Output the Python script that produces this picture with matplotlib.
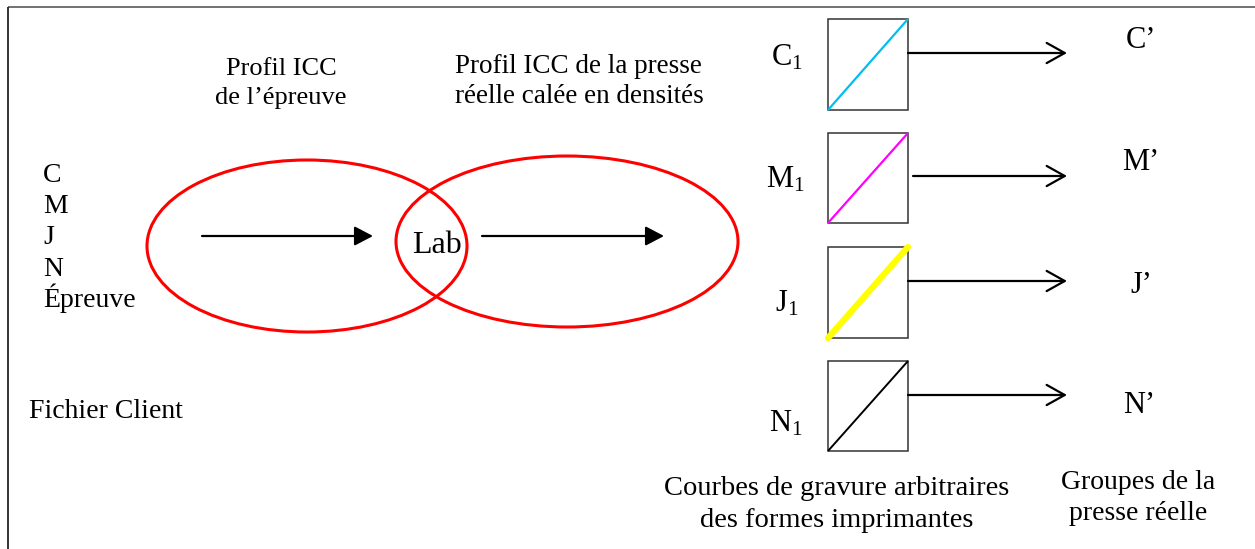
import matplotlib
matplotlib.use("Agg")
import matplotlib.pyplot as plt
from matplotlib.patches import Ellipse, Rectangle, FancyArrowPatch

plt.rcParams['font.family'] = ['Liberation Serif', 'DejaVu Serif']
plt.rcParams['mathtext.fontset'] = 'custom'
plt.rcParams['mathtext.rm'] = 'Liberation Serif'

# ---- content ----
input_channels = ['C', 'M', 'J', 'N', 'Épreuve']
input_caption = 'Fichier Client'
profile_titles = ['Profil ICC\nde l’épreuve', 'Profil ICC de la presse\nréelle calée en densités']
pcs_label = 'Lab'
plate_labels = ['C', 'M', 'J', 'N']
plate_subscript = '1'
output_labels = ['C’', 'M’', 'J’', 'N’']
curve_colors = ['#00BFEF', '#FF00FF', '#FFFF00', '#000000']
curve_widths = [1.6, 1.6, 4.5, 1.4]
plates_caption = 'Courbes de gravure arbitraires\ndes formes imprimantes'
press_caption = 'Groupes de la\npresse réelle'

W, H = 1255, 549
fig = plt.figure(figsize=(W / 100, H / 100), dpi=100)
ax = fig.add_axes([0, 0, 1, 1])
ax.set_xlim(0, W)
ax.set_ylim(H, 0)
ax.axis('off')

# frame (top and left)
ax.plot([8, W], [7, 7], color='#666666', lw=1.3, solid_capstyle='butt')
ax.plot([8, 8], [7, H], color='#222222', lw=1.3, solid_capstyle='butt')

# titles
t1a, t1b = profile_titles[0].split('\n')
t2a, t2b = profile_titles[1].split('\n')
ax.text(281, 75, t1a, ha='center', va='baseline', fontsize=19)
ax.text(281, 104, t1b, ha='center', va='baseline', fontsize=19)
ax.text(455, 73, t2a, ha='left', va='baseline', fontsize=19.5)
ax.text(455, 103, t2b, ha='left', va='baseline', fontsize=19.5)

# input channels
in_baselines = [182, 213, 244, 276, 307]
for lab, yb in zip(input_channels, in_baselines):
    ax.text(43, yb, lab, ha='left', va='baseline', fontsize=20)
ax.text(29, 418, input_caption, ha='left', va='baseline', fontsize=20)

# ellipses
ax.add_patch(Ellipse((307, 246), 320, 172, fill=False, ec='#FF0000', lw=2.2))
ax.add_patch(Ellipse((567, 241.5), 342, 171, fill=False, ec='#FF0000', lw=2.2))

for x0, x1 in [(202, 373), (482, 664)]:
    ax.add_patch(FancyArrowPatch((x0, 236), (x1, 236),
                                 arrowstyle='-|>,head_length=0.8,head_width=0.42',
                                 mutation_scale=14, color='black', lw=1.6,
                                 shrinkA=0, shrinkB=0))

ax.text(412, 253, pcs_label, ha='left', va='baseline', fontsize=23)

# plates
box_tops = [19, 133, 247, 361]
box_bottoms = [110, 223, 338, 451]
arrow_y = [53, 176, 281, 395]
arrow_x0 = [908, 913, 908, 908]
plate_x = [771, 766, 775, 769]
plate_base = [65, 188, 312, 432]
out_x = [1126, 1122, 1130, 1123]
out_base = [48, 170, 293, 413]
bx0, bx1 = 828, 908
for i in range(4):
    t, b = box_tops[i], box_bottoms[i]
    ax.add_patch(Rectangle((bx0, t), bx1 - bx0, b - t, fill=False, ec='#333333', lw=1.1))
    ax.plot([bx0, bx1], [b, t], color=curve_colors[i], lw=curve_widths[i],
            solid_capstyle='round' if i == 2 else 'butt')
    ax.add_patch(FancyArrowPatch((arrow_x0[i], arrow_y[i]), (1067, arrow_y[i]),
                                 arrowstyle='->,head_length=0.93,head_width=0.52',
                                 mutation_scale=14, color='black', lw=1.6,
                                 shrinkA=0, shrinkB=0))
    ax.text(plate_x[i], plate_base[i],
            r'$\mathregular{%s_{%s}}$' % (plate_labels[i], plate_subscript),
            ha='left', va='baseline', fontsize=22)
    ax.text(out_x[i], out_base[i], output_labels[i], ha='left', va='baseline', fontsize=22)

# captions
l1, l2 = plates_caption.split('\n')
ax.text(837, 495, l1, ha='center', va='baseline', fontsize=20.5)
ax.text(837, 527, l2, ha='center', va='baseline', fontsize=20.5)
p1, p2 = press_caption.split('\n')
ax.text(1138, 489, p1, ha='center', va='baseline', fontsize=20)
ax.text(1138, 520, p2, ha='center', va='baseline', fontsize=20)

fig.savefig('out.png', dpi=100)
